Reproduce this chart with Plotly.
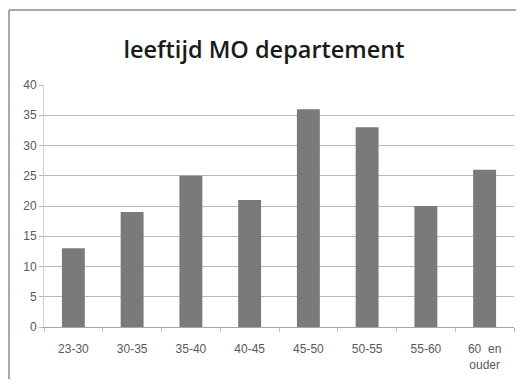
import plotly.graph_objects as go

categories = ["23-30", "30-35", "35-40", "40-45", "45-50", "50-55", "55-60", "60&nbsp;&nbsp;en<br>ouder"]
values = [13, 19, 25, 21, 36, 33, 20, 26]
y_ticks = [0, 5, 10, 15, 20, 25, 30, 35, 40]
title_text = "leeftijd MO departement"

fig = go.Figure(go.Bar(x=categories, y=values, marker=dict(color="#7a7a7a", line=dict(width=0))))

# page body has an 8px margin, so the figure is shifted by 8px; keep it inside the window
W, H = 508, 371
L, R, T, B = 36, 2, 77, 52
pw, ph = W - L - R, H - T - B

def px(x):
    return (x - L) / pw

def py(y):
    return (H - B - y) / ph

border = dict(color="#8c8c8c", width=1.5)

fig.update_layout(
    width=W, height=H,
    margin=dict(l=L, r=R, t=T, b=B),
    paper_bgcolor="white", plot_bgcolor="white",
    bargap=0.61,
    showlegend=False,
    font=dict(family="Liberation Sans, Arial", color="#595959", size=12),
    title=dict(text=title_text, x=256 / W, xanchor="center", y=1 - 42 / H, yanchor="middle",
               font=dict(family="Open Sans, Noto Sans", size=23.5, color="#1a1a1a", weight=600)),
    xaxis=dict(type="category", showline=True, linecolor="#a6a6a6", linewidth=1,
               ticks="outside", ticklen=4, tickcolor="#bfbfbf", tickson="boundaries",
               showgrid=False, tickfont=dict(size=12, color="#595959"), ticklabelstandoff=11),
    yaxis=dict(range=[0, 40], tickvals=y_ticks, showgrid=True, gridcolor="#b8b8b8", gridwidth=1,
               showline=True, linecolor="#d0d0d0", ticks="outside", ticklen=4, tickcolor="#b8b8b8",
               zeroline=False, tickfont=dict(size=12, color="#595959")),
    shapes=[
        dict(type="line", xref="paper", yref="paper", x0=px(1), x1=px(W), y0=py(2), y1=py(2), line=border),
        dict(type="line", xref="paper", yref="paper", x0=px(1), x1=px(1), y0=py(2), y1=py(H), line=border),
    ],
)

fig.write_html("out.html")
